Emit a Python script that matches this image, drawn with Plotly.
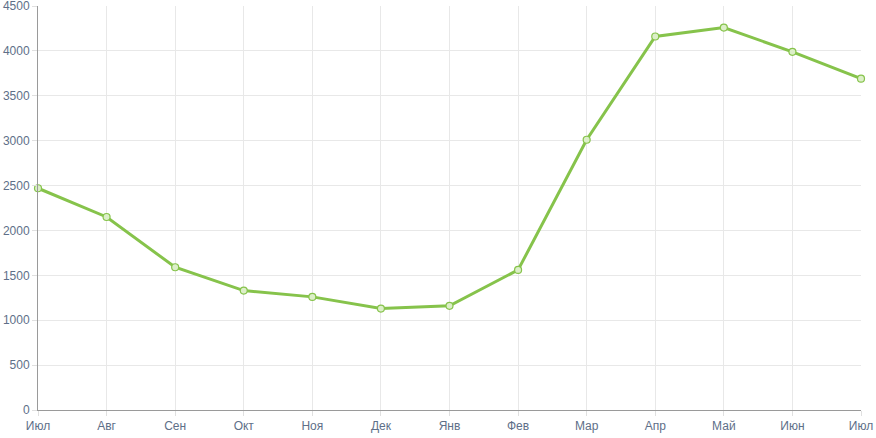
import plotly.graph_objects as go

months = ["Июл", "Авг", "Сен", "Окт", "Ноя", "Дек", "Янв", "Фев", "Мар", "Апр", "Май", "Июн", "Июл"]
values = [2470, 2150, 1590, 1330, 1260, 1130, 1160, 1560, 3010, 4160, 4260, 3990, 3690]
y_ticks = [0, 500, 1000, 1500, 2000, 2500, 3000, 3500, 4000, 4500]

x_idx = list(range(len(months)))

fig = go.Figure()
fig.add_trace(go.Scatter(
    x=x_idx, y=values, mode="lines+markers",
    line=dict(color="#86c34b", width=3),
    marker=dict(size=7, color="#dcefc8", line=dict(color="#86c34b", width=1.2)),
    cliponaxis=False,
    hoverinfo="y",
))

fig.update_layout(
    width=876, height=438,
    margin=dict(l=38, r=15, t=6, b=28, autoexpand=False),
    paper_bgcolor="white", plot_bgcolor="white",
    showlegend=False,
    font=dict(family="Liberation Sans, Arial, sans-serif", size=12, color="#5e6f88"),
)
fig.update_xaxes(
    range=[0, len(months) - 1],
    tickvals=x_idx, ticktext=months,
    showgrid=True, gridcolor="#e8e8e8", gridwidth=1,
    showline=True, linecolor="#9a9a9a", linewidth=1,
    ticks="outside", ticklen=5, tickcolor="#e0e0e0",
    zeroline=False, automargin=False, ticklabeloverflow="allow",
)
fig.update_yaxes(
    range=[0, 4500],
    tickvals=y_ticks,
    showgrid=True, gridcolor="#e8e8e8", gridwidth=1,
    showline=True, linecolor="#9a9a9a", linewidth=1,
    ticks="outside", ticklen=5, tickcolor="#e0e0e0",
    zeroline=False, automargin=False, ticklabeloverflow="allow",
)

fig.write_html("out.html", config={"displayModeBar": False},
               post_script="document.body.style.margin='0';document.body.style.overflow='hidden';")
